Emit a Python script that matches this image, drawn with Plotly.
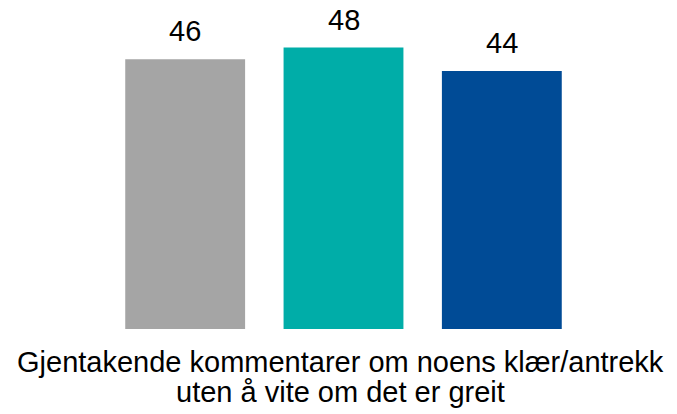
import plotly.graph_objects as go

category_lines = ["Gjentakende kommentarer om noens klær/antrekk", "uten å vite om det er greit"]
category = " ".join(category_lines)
series_names = ["Serie 1", "Serie 2", "Serie 3"]
values = [46, 48, 44]
colors = ["#A5A5A5", "#00ADA8", "#004B96"]

fig = go.Figure()
for name, v, c in zip(series_names, values, colors):
    fig.add_trace(go.Bar(name=name, x=[category], y=[v], marker_color=c,
                         marker_line_width=0, offsetgroup=name))

FONT = "Liberation Sans, Arial, sans-serif"
# page body has an 8px default margin, so the figure is 8px smaller than the window
fig.update_layout(
    width=669, height=406,
    margin=dict(l=98, r=96, t=2, b=85, autoexpand=False),
    paper_bgcolor="white", plot_bgcolor="white",
    barmode="group", bargap=0, bargroupgap=0.243,
    showlegend=False,
    font=dict(family=FONT, size=29, color="#000000"),
)
fig.update_yaxes(range=[0, 54.4], visible=False, automargin=False)
fig.update_xaxes(range=[-0.5, 0.5], showline=False, showticklabels=False, ticks="",
                 automargin=False)

# value labels above bars (anchored to the data values)
n = len(values)
for i, v in enumerate(values):
    fig.add_annotation(x=category, y=v, text=str(v), showarrow=False,
                       yanchor="bottom", yshift=11, borderpad=0,
                       xshift=(i - (n - 1) / 2) * 158.5,
                       font=dict(family=FONT, size=29, color="#000000"))

# category label (two lines)
for j, line in enumerate(category_lines):
    fig.add_annotation(x=category, y=0, text=line, showarrow=False,
                       yanchor="top", yshift=-16 - 30 * j, xshift=-3, borderpad=0,
                       font=dict(family=FONT, size=29, color="#000000"))

fig.write_html("out.html")
